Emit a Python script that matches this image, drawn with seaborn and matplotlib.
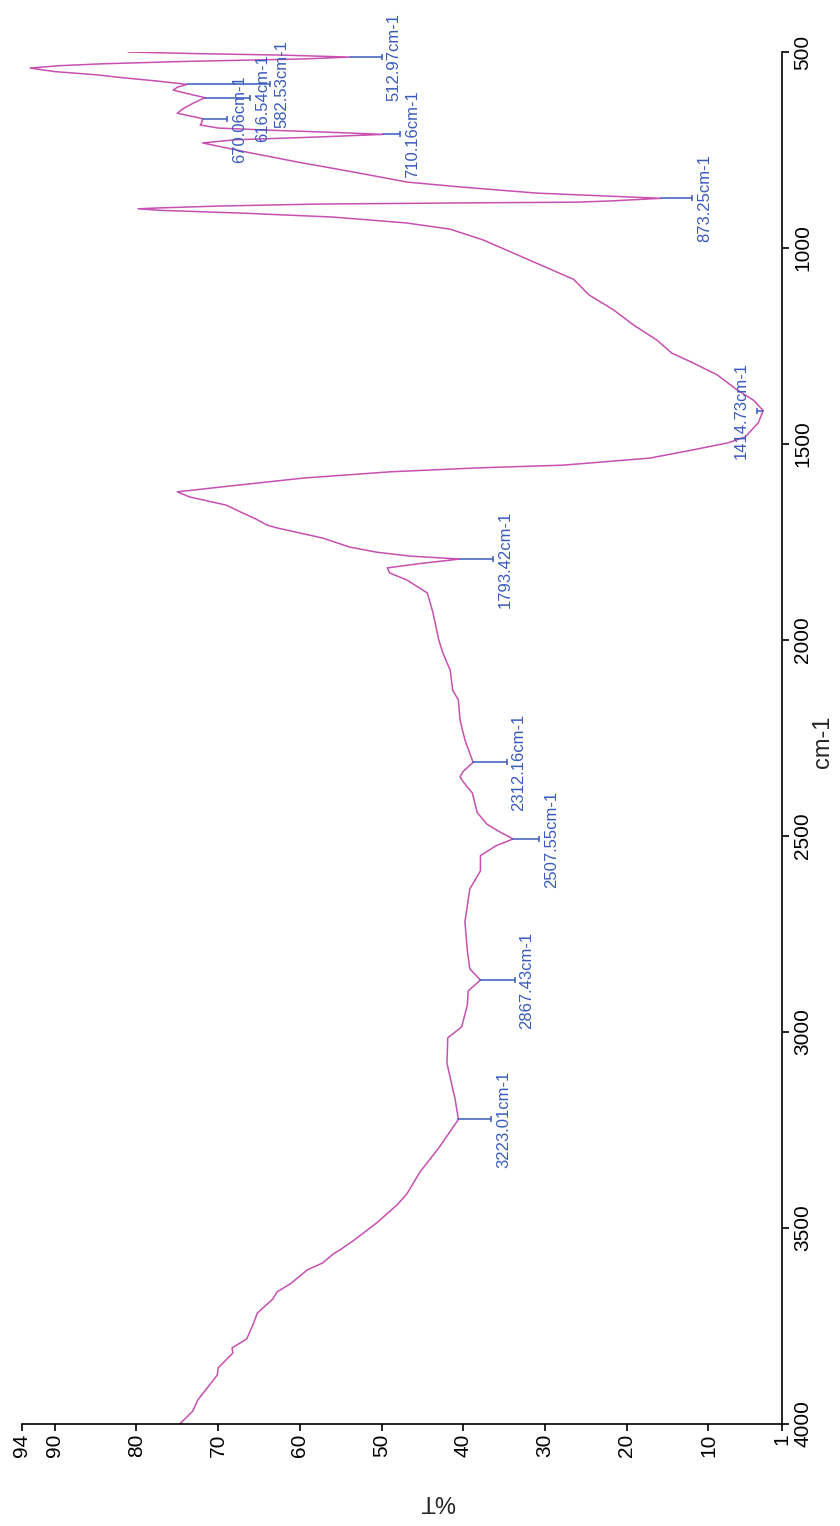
import matplotlib
matplotlib.use("Agg")
import matplotlib.pyplot as plt
import numpy as np
import pandas as pd
import seaborn as sns

# IR spectrum: wavenumber (cm-1) and transmittance (%T)
wavenumber = [
    500, 504, 508, 512.97, 518, 524, 530, 535, 541, 550, 558, 566, 574, 582.53,
    590, 597, 606, 616.54, 630, 645, 656, 663, 670.06, 680, 686, 694, 700, 705,
    710.16, 717, 724, 732, 755, 781, 806, 832, 844, 855, 860, 866, 873.25, 880,
    883, 885, 888, 893, 898, 900, 904, 911, 921, 936, 952, 980, 1010, 1048,
    1080, 1120, 1158, 1196, 1235, 1268, 1293, 1324, 1362, 1388, 1414.73, 1446,
    1482, 1497, 1515, 1536, 1554, 1561, 1571, 1587, 1605, 1622, 1635, 1656,
    1673, 1690, 1707, 1714, 1727, 1740, 1763, 1776, 1786, 1793.42, 1804, 1816,
    1829, 1847, 1880, 1931, 2000, 2033, 2077, 2128, 2153, 2204, 2255, 2312.16,
    2335, 2349, 2362, 2390, 2440, 2470, 2490, 2507.55, 2525, 2550, 2589, 2635,
    2719, 2793, 2839, 2867.43, 2895, 2931, 2987, 3015, 3079, 3135, 3171,
    3223.01, 3293, 3357, 3413, 3441, 3487, 3533, 3556, 3566, 3589, 3607, 3643,
    3663, 3681, 3717, 3745, 3783, 3806, 3819, 3857, 3875, 3939, 3967, 4000,
]
transmittance = [
    81.0, 73.0, 62.0, 53.9, 60.0, 74.0, 84.0, 89.5, 93.0, 90.0, 85.0, 81.5, 77.5, 73.8,
    75.0, 75.5, 73.8, 71.6, 73.0, 74.3, 75.0, 73.5, 71.9, 72.0, 72.2, 70.0, 63.0, 56.0,
    49.8, 58.0, 68.0, 71.9, 66.6, 60.2, 53.5, 46.8, 40.5, 34.0, 31.0, 24.0, 15.8, 22.0,
    26.0, 40.0, 58.0, 70.0, 77.5, 79.8, 77.0, 67.1, 56.0, 47.0, 41.6, 37.5, 34.2, 30.0,
    26.5, 24.6, 21.6, 19.2, 16.3, 14.5, 11.9, 8.9, 6.5, 4.5, 3.3, 3.9,
    5.5, 7.6, 11.9, 17.2, 27.8, 38.3, 49.0, 59.6, 67.6, 75.0, 73.5, 69.0,
    67.3, 65.5, 64.0, 62.8, 60.0, 57.2, 53.9, 50.6, 46.5, 40.4, 44.9, 49.3,
    49.0, 46.9, 44.4, 43.7, 43.0, 42.5, 41.6, 41.3, 40.6, 40.4, 39.8, 38.8,
    40.0, 40.4, 40.0, 38.9, 38.3, 37.1, 35.5, 33.9, 36.0, 37.9, 37.9, 39.2,
    39.8, 39.5, 39.2, 37.9, 39.4, 39.5, 40.2, 41.9, 42.0, 41.4, 41.0,
    40.6, 42.9, 45.3, 46.9, 48.1, 50.6, 53.5, 55.1, 55.9, 57.2, 59.1, 61.2,
    62.8, 63.3, 65.2, 65.7, 66.5, 68.3, 68.2, 70.0, 70.1, 72.5, 73.1, 74.7,
]

peak_wn = [512.97, 582.53, 616.54, 670.06, 710.16, 873.25, 1414.73,
           1793.42, 2312.16, 2507.55, 2867.43, 3223.01]
peak_labels = ["512.97cm-1", "582.53cm-1", "616.54cm-1", "670.06cm-1",
               "710.16cm-1", "873.25cm-1", "1414.73cm-1", "1793.42cm-1",
               "2312.16cm-1", "2507.55cm-1", "2867.43cm-1", "3223.01cm-1"]
# where each peak label sits on the %T scale
label_pos = [48.5, 62.2, 64.6, 67.4, 46.2, 10.5, 6.0, 34.9, 33.2, 29.2, 32.2, 35.1]

t_ticks = [94, 90, 80, 70, 60, 50, 40, 30, 20, 10, 1]
wn_ticks = [500, 1000, 1500, 2000, 2500, 3000, 3500, 4000]

curve_color = "#C850B0"
peak_color = "#3A5BBE"

df = pd.DataFrame({"wn": wavenumber, "T": transmittance})

sns.set_theme(style="ticks")
plt.rcParams['font.family'] = ['Liberation Sans', 'DejaVu Sans']

fig = plt.figure(figsize=(8.4, 15.26), dpi=100)
ax = fig.add_axes([22 / 840, 102 / 1526, 760 / 840, 1372 / 1526])

sns.lineplot(data=df, x="T", y="wn", sort=False, estimator=None,
             color=curve_color, lw=1.1, ax=ax)

# peak markers: short line from the peak, small end tick, rotated value
for w, lab, tx in zip(peak_wn, peak_labels, label_pos):
    pt = np.interp(w, wavenumber, transmittance)
    end = tx + 1.5 if tx < pt else pt + 0.8
    ax.plot([pt, end], [w, w], color=peak_color, lw=1.1)
    ax.plot([end], [w], marker="|", ms=4, mew=1.1, color=peak_color)
    ax.text(tx, w, lab, rotation=90, ha="center", va="center",
            color=peak_color, fontsize=12)

ax.set_xlim(94, 1)
ax.set_ylim(4000, 500)
ax.set_xticks(t_ticks)
ax.set_yticks(wn_ticks)
sns.despine(ax=ax, left=True, top=True, right=False, bottom=False)
ax.yaxis.tick_right()
ax.yaxis.set_label_position("right")
for s in ["bottom", "right"]:
    ax.spines[s].set_linewidth(1.2)
    ax.spines[s].set_color("black")

ax.tick_params(axis="both", direction="out", length=5, width=1.2,
               color="black", labelsize=15, labelcolor="black")
ax.tick_params(axis="x", labelrotation=90, pad=2)
ax.tick_params(axis="y", labelrotation=90, pad=3)
plt.setp(ax.get_yticklabels(), va="center")

ax.set_xlabel("%T", fontsize=17, rotation=180)
ax.xaxis.set_label_coords(0.546, -0.048)
ax.set_ylabel("cm-1", fontsize=17)
ax.yaxis.set_label_coords(1.04, 0.497)
ax.grid(False)

fig.savefig("out.png", dpi=100)
